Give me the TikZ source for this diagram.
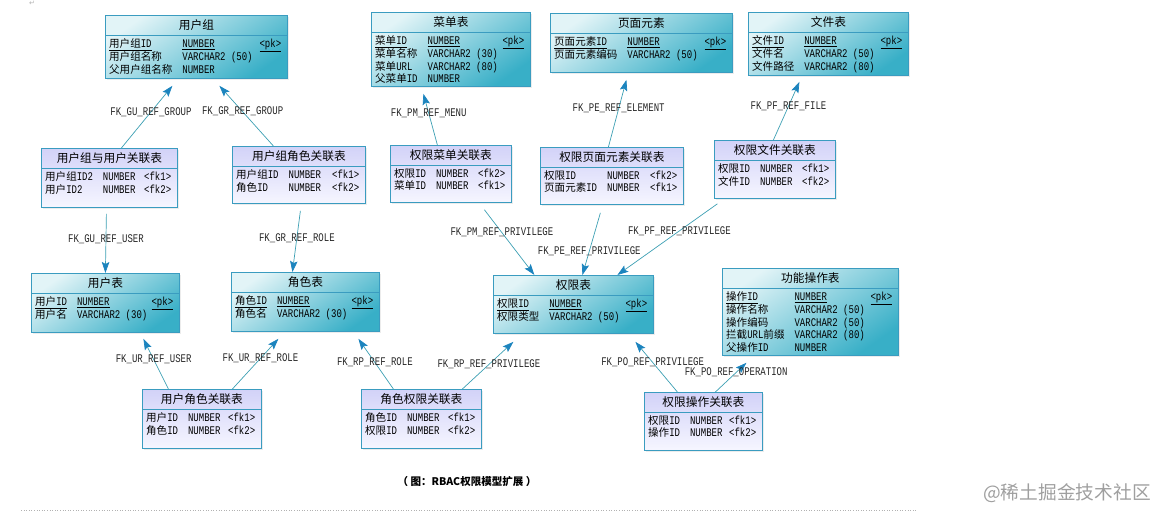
\documentclass[tikz,border=0pt]{standalone}
\usepackage{fontspec}
\usepackage{array}
\setmainfont{Liberation Mono}[Scale=1.3, FakeStretch=0.77]
\newfontfamily\cjk{Noto Sans CJK SC}[Scale=1.17]
\newfontfamily\symfont{DejaVu Sans}
\usetikzlibrary{arrows.meta,shadows}

\definecolor{tblborder}{HTML}{3A9CC0}
\definecolor{entlight}{HTML}{E2F4F7}
\definecolor{entdark}{HTML}{38AFC7}
\definecolor{asstop}{HTML}{D2D2F8}
\definecolor{assbot}{HTML}{F6F6FF}
\definecolor{fkline}{HTML}{3C9FB3}
\definecolor{fktip}{HTML}{1C84BE}

\newcommand\zh[1]{{\cjk #1}}
% name, style, x, y, width, height, title, rows
\newcommand\ertable[8]{%
  \node[#2, minimum width=#5pt, minimum height=#6pt] (#1) at (#3,#4) {};
  \node[tbltitle] (#1-t) at ([yshift=-10pt]#1.north) {#7};
  \node[tblrows] (#1-r) at ([shift={(4pt,-23.5pt)}]#1.north west)
    {\begin{tabular*}{\dimexpr#5pt-10pt\relax}{@{}l@{\hspace{10pt}}l@{\extracolsep{\fill}}l@{}}#8\end{tabular*}};}

\tikzset{
  tblbox/.style={anchor=north west, inner sep=0pt, draw=tblborder, line width=0.8pt,
    drop shadow={shadow xshift=1.5pt, shadow yshift=-1.5pt, opacity=0.15},
    path picture={\draw[tblborder, line width=0.8pt]
      ([yshift=-20pt]path picture bounding box.north west) --
      ([yshift=-20pt]path picture bounding box.north east);}},
  entity/.style={tblbox, top color=entlight, bottom color=entdark, shading angle=35},
  assoc/.style={tblbox, top color=asstop, bottom color=assbot},
  tbltitle/.style={inner sep=0pt, font=\cjk},
  tblrows/.style={anchor=north west, inner sep=0pt},
  fk/.style={draw=fkline, line width=0.7pt,
    -{Stealth[length=11pt, width=7.5pt, inset=2pt, color=fktip]}},
  fklabel/.style={inner sep=0pt, text=black!85}
}

\begin{document}
\begin{tikzpicture}[x=1pt, y=-1pt, font=\fontsize{9}{12}\selectfont]
  \useasboundingbox (0,0) rectangle (1169,518);
  \node[text=gray!60, font=\symfont\fontsize{7}{8}\selectfont] (ret) at (32,3) {↵};

  \ertable{grp}{entity}{105}{15}{182}{63}{用户组}{%
    \underline{\zh{用户组}ID} & \underline{NUMBER} & \underline{<pk>}\\
    \zh{用户组名称} & VARCHAR2 (50) & \\
    \zh{父用户组名称} & NUMBER & }
  \ertable{menu}{entity}{371}{12}{159}{74}{菜单表}{%
    \underline{\zh{菜单}ID} & \underline{NUMBER} & \underline{<pk>}\\
    \zh{菜单名称} & VARCHAR2 (30) & \\
    \zh{菜单}URL & VARCHAR2 (80) & \\
    \zh{父菜单}ID & NUMBER & }
  \ertable{elem}{entity}{550}{13}{182}{59}{页面元素}{%
    \underline{\zh{页面元素}ID} & \underline{NUMBER} & \underline{<pk>}\\
    \zh{页面元素编码} & VARCHAR2 (50) & }
  \ertable{file}{entity}{748}{12}{160}{63}{文件表}{%
    \underline{\zh{文件}ID} & \underline{NUMBER} & \underline{<pk>}\\
    \zh{文件名} & VARCHAR2 (50) & \\
    \zh{文件路径} & VARCHAR2 (80) & }

  \ertable{grpuser}{assoc}{41}{148}{136}{59}{用户组与用户关联表}{%
    \zh{用户组}ID2 & NUMBER & <fk1>\\
    \zh{用户}ID2 & NUMBER & <fk2>}
  \ertable{grprole}{assoc}{232}{146}{133}{57}{用户组角色关联表}{%
    \zh{用户组}ID & NUMBER & <fk1>\\
    \zh{角色}ID & NUMBER & <fk2>}
  \ertable{privmenu}{assoc}{390}{145}{121}{57}{权限菜单关联表}{%
    \zh{权限}ID & NUMBER & <fk2>\\
    \zh{菜单}ID & NUMBER & <fk1>}
  \ertable{privelem}{assoc}{540}{147}{143}{57}{权限页面元素关联表}{%
    \zh{权限}ID & NUMBER & <fk2>\\
    \zh{页面元素}ID & NUMBER & <fk1>}
  \ertable{privfile}{assoc}{714}{140}{121}{58}{权限文件关联表}{%
    \zh{权限}ID & NUMBER & <fk1>\\
    \zh{文件}ID & NUMBER & <fk2>}

  \ertable{user}{entity}{31}{273}{148}{59}{用户表}{%
    \underline{\zh{用户}ID} & \underline{NUMBER} & \underline{<pk>}\\
    \zh{用户名} & VARCHAR2 (30) & }
  \ertable{role}{entity}{231}{272}{148}{59}{角色表}{%
    \underline{\zh{角色}ID} & \underline{NUMBER} & \underline{<pk>}\\
    \zh{角色名} & VARCHAR2 (30) & }
  \ertable{priv}{entity}{493}{275}{160}{58}{权限表}{%
    \underline{\zh{权限}ID} & \underline{NUMBER} & \underline{<pk>}\\
    \zh{权限类型} & VARCHAR2 (50) & }
  \ertable{oper}{entity}{722}{268}{176}{87}{功能操作表}{%
    \underline{\zh{操作}ID} & \underline{NUMBER} & \underline{<pk>}\\
    \zh{操作名称} & VARCHAR2 (50) & \\
    \zh{操作编码} & VARCHAR2 (50) & \\
    \zh{拦截}URL\zh{前缀} & VARCHAR2 (80) & \\
    \zh{父操作}ID & NUMBER & }

  \ertable{userrole}{assoc}{142}{389}{119}{59}{用户角色关联表}{%
    \zh{用户}ID & NUMBER & <fk1>\\
    \zh{角色}ID & NUMBER & <fk2>}
  \ertable{rolepriv}{assoc}{361}{389}{120}{59}{角色权限关联表}{%
    \zh{角色}ID & NUMBER & <fk1>\\
    \zh{权限}ID & NUMBER & <fk2>}
  \ertable{privoper}{assoc}{644}{392}{118}{58}{权限操作关联表}{%
    \zh{权限}ID & NUMBER & <fk1>\\
    \zh{操作}ID & NUMBER & <fk2>}

  \draw[fk] ([xshift=12pt]grpuser.north) -- ([shift={(-24pt,-7pt)}]grp.south)
    node[fklabel, pos=.58] (gugroup) {FK\_GU\_REF\_GROUP};
  \draw[fk] ([xshift=-25.5pt]grprole.north) -- ([shift={(23pt,-7pt)}]grp.south)
    node[fklabel, pos=.57] (grgroup) {FK\_GR\_REF\_GROUP};
  \draw[fk] ([shift={(-3pt,-6pt)}]grpuser.south) -- (user.north)
    node[fklabel, pos=.43] (guuser) {FK\_GU\_REF\_USER};
  \draw[fk] ([shift={(1.5pt,-7pt)}]grprole.south) -- ([xshift=-13pt]role.north)
    node[fklabel, pos=.44] (grrole) {FK\_GR\_REF\_ROLE};
  \draw[fk] ([xshift=-33.5pt]userrole.north) -- ([shift={(38pt,-6pt)}]user.south)
    node[fklabel, pos=.59] (uruser) {FK\_UR\_REF\_USER};
  \draw[fk] ([xshift=30.5pt]userrole.north) -- ([shift={(-27pt,-7pt)}]role.south)
    node[fklabel, pos=.61] (urrole) {FK\_UR\_REF\_ROLE};
  \draw[fk] ([xshift=-28pt]rolepriv.north) -- ([shift={(53pt,-7pt)}]role.south)
    node[fklabel, pos=.53] (rprole) {FK\_RP\_REF\_ROLE};
  \draw[fk] ([xshift=41pt]rolepriv.north) -- ([shift={(-60pt,-8pt)}]priv.south)
    node[fklabel, pos=.52] (rppriv) {FK\_RP\_REF\_PRIVILEGE};
  \draw[fk] ([xshift=-26pt]privoper.north) -- ([shift={(62pt,-8pt)}]priv.south)
    node[fklabel, pos=.59] (popriv) {FK\_PO\_REF\_PRIVILEGE};
  \draw[fk] ([xshift=12pt]privoper.north) -- ([shift={(-64pt,-7pt)}]oper.south)
    node[fklabel, pos=.67] (pooper) {FK\_PO\_REF\_OPERATION};
  \draw[fk] ([xshift=-13.5pt]privmenu.north) -- ([shift={(-27.5pt,-7pt)}]menu.south)
    node[fklabel, pos=.62] (pmmenu) {FK\_PM\_REF\_MENU};
  \draw[fk] ([xshift=-3.5pt]privelem.north) -- ([shift={(-15pt,-7pt)}]elem.south)
    node[fklabel, pos=.57] (peelem) {FK\_PE\_REF\_ELEMENT};
  \draw[fk] ([xshift=-1.5pt]privfile.north) -- ([shift={(-29pt,-6pt)}]file.south)
    node[fklabel, pos=.58] (pffile) {FK\_PF\_REF\_FILE};
  \draw[fk] ([shift={(33.5pt,-7pt)}]privmenu.south) -- ([xshift=-39pt]priv.north)
    node[fklabel, pos=.35] (pmpriv) {FK\_PM\_REF\_PRIVILEGE};
  \draw[fk] ([shift={(-11.5pt,-8pt)}]privelem.south) -- ([xshift=9pt]priv.north)
    node[fklabel, pos=.62] (pepriv) {FK\_PE\_REF\_PRIVILEGE};
  \draw[fk] ([shift={(-57.5pt,-5pt)}]privfile.south) -- ([xshift=44pt]priv.north)
    node[fklabel, pos=.38] (pfpriv) {FK\_PF\_REF\_PRIVILEGE};

  \node (caption) at (467,482) {\cjk\bfseries （ 图：RBAC权限模型扩展 ）};
  \node[text=gray!75] (mark) at (1067,493) {\fontsize{16}{18}\selectfont\zh{@稀土掘金技术社区}};
  \draw[gray!60, dotted, line width=0.6pt] (21,510) -- (917,510);
\end{tikzpicture}
\end{document}
